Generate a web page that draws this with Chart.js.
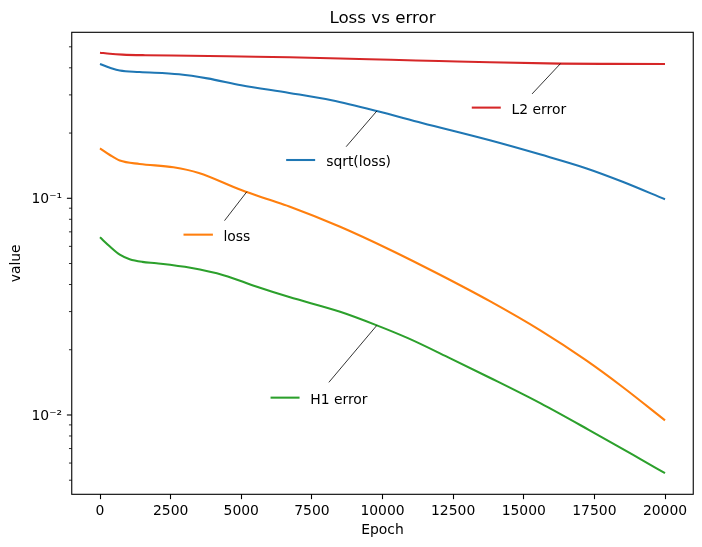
<!DOCTYPE html>
<html><head><meta charset="utf-8">
<script src="https://cdn.jsdelivr.net/npm/chart.js@4.4.1/dist/chart.umd.min.js"></script>
<style>html,body{margin:0;padding:0;background:#fff}#wrap{width:702px;height:547px;position:relative}</style>
</head><body><div id="wrap"><canvas id="c"></canvas></div>
<script>
// ---- data ----
const xTicks = [0, 2500, 5000, 7500, 10000, 12500, 15000, 17500, 20000];
const yMajorTicks = [0.01, 0.1];
const yMajorLabels = ['10\u207B\u00B2', '10\u207B\u00B9'];
const yMinorTicks = [0.005, 0.006, 0.007, 0.008, 0.009, 0.02, 0.03, 0.04, 0.05, 0.06, 0.07, 0.08, 0.09, 0.2, 0.3, 0.4, 0.5];

const l2Epoch = [0, 350, 800, 1600, 3200, 5000, 6700, 8500, 10300, 12000, 13800, 16300, 18000, 20000];
const l2Value = [0.4697, 0.4643, 0.4603, 0.4574, 0.4550, 0.4511, 0.4473, 0.4416, 0.4355, 0.4300, 0.4241, 0.4183, 0.4170, 0.4167];

const sqEpoch = [0, 350, 700, 1400, 2800, 3800, 5000, 6700, 8200, 9800, 11400, 13800, 15600, 17200, 18500, 20000];
const sqValue = [0.4167, 0.4006, 0.3884, 0.3827, 0.3735, 0.3576, 0.3325, 0.3064, 0.2833, 0.2528, 0.2226, 0.1852, 0.1591, 0.1377, 0.1192, 0.0989];

const lossEpoch = [0, 350, 700, 1400, 2600, 3500, 5000, 6000, 6700, 8500, 10300, 12000, 13800, 15600, 17200, 18500, 20000];
const lossValue = [0.1701, 0.1584, 0.1493, 0.1440, 0.1390, 0.1308, 0.1091, 0.0984, 0.0917, 0.0739, 0.0576, 0.0446, 0.0335, 0.0245, 0.0179, 0.01346, 0.00944];

const h1Epoch = [0, 350, 700, 1050, 1500, 2000, 3200, 4400, 5500, 6700, 8500, 9800, 10900, 12400, 13800, 15600, 17300, 19100, 20000];
const h1Value = [0.06607, 0.0599, 0.05493, 0.05236, 0.05087, 0.05012, 0.04777, 0.04407, 0.03926, 0.0350, 0.02994, 0.02592, 0.02262, 0.01825, 0.01486, 0.01131, 0.00854, 0.00629, 0.00539];

const annotLabels = ['L2 error', 'sqrt(loss)', 'loss', 'H1 error'];
const annotEpochs = [16300, 9800, 5200, 9800];
const annotValues = [0.4183, 0.2528, 0.1073, 0.02592];

// ---- styles / layout ----
const C = {blue:'#1f77b4', orange:'#ff7f0e', green:'#2ca02c', red:'#d62728'};
const annotColors = [C.red, C.blue, C.orange, C.green];
const annotLayout = [
  {conn:[-28.4, 30.3], line:[-88.7, -59.7, 44], text:-49},
  {conn:[-30.7, 35.7], line:[-90.7, -61.7, 49], text:-50.7},
  {conn:[-22.4, 29], line:[-63.4, -34, 43], text:-23.4},
  {conn:[-48, 57], line:[-106.3, -77.3, 72.3], text:-66.6}
];
const FS = 13.9;

Chart.defaults.font.family = 'DejaVu Sans';
Chart.defaults.font.size = FS;
Chart.defaults.color = '#000';

function pts(ex, vy) { return ex.map((e, i) => ({x: e, y: vy[i]})); }
function ds(label, ex, vy, color) {
  return {label, data: pts(ex, vy), borderColor: color, backgroundColor: color, borderWidth: 2.08,
    pointRadius: 0, cubicInterpolationMode: 'monotone', fill: false};
}

const deco = {
  id: 'deco',
  afterDraw(chart) {
    const {ctx, chartArea: a, scales: {x, y}} = chart;
    ctx.save();
    ctx.strokeStyle = '#000';
    const seg = (x1, y1, x2, y2) => { ctx.beginPath(); ctx.moveTo(x1, y1); ctx.lineTo(x2, y2); ctx.stroke(); };
    ctx.lineWidth = 1.1;
    yMajorTicks.forEach(v => { const p = y.getPixelForValue(v); seg(a.left - 4.86, p, a.left, p); });
    ctx.lineWidth = 0.83;
    yMinorTicks.forEach(v => { const p = y.getPixelForValue(v); seg(a.left - 2.78, p, a.left, p); });
    ctx.lineWidth = 1.1;
    ctx.strokeRect(a.left, a.top, a.right - a.left, a.bottom - a.top);
    // annotations
    annotLabels.forEach((t, i) => {
      const ax = x.getPixelForValue(annotEpochs[i]);
      const ay = y.getPixelForValue(annotValues[i]);
      const L = annotLayout[i];
      ctx.strokeStyle = '#000'; ctx.lineWidth = 0.8;
      seg(ax, ay, ax + L.conn[0], ay + L.conn[1]);
      ctx.strokeStyle = annotColors[i]; ctx.lineWidth = 2.08;
      const ly = ay + L.line[2];
      seg(ax + L.line[0], ly, ax + L.line[1], ly);
      ctx.fillStyle = '#000';
      ctx.font = FS + 'px "DejaVu Sans"';
      ctx.textAlign = 'left'; ctx.textBaseline = 'alphabetic';
      ctx.fillText(t, ax + L.text, ly + 6.2);
    });
    ctx.restore();
  }
};

new Chart(document.getElementById('c'), {
  type: 'line',
  data: {datasets: [
    ds('L2 error', l2Epoch, l2Value, C.red),
    ds('H1 error', h1Epoch, h1Value, C.green),
    ds('loss', lossEpoch, lossValue, C.orange),
    ds('sqrt(loss)', sqEpoch, sqValue, C.blue)
  ]},
  options: {
    responsive: true, maintainAspectRatio: false, animation: false,
    layout: {padding: {left: 0, right: 8.75, top: 0, bottom: 0}},
    plugins: {
      legend: {display: false}, tooltip: {enabled: false},
      title: {display: true, text: 'Loss vs error', fullSize: false, font: {size: 16.7, weight: 'normal'},
        color: '#000', padding: {top: 8.2, bottom: 4.06}}
    },
    scales: {
      x: {type: 'linear', min: -1000, max: 21000,
        afterBuildTicks: s => { s.ticks = xTicks.map(v => ({value: v})); },
        afterFit: s => { s.height = 52.7; },
        ticks: {autoSkip: false, maxRotation: 0, padding: 4.2, callback: v => String(v)},
        grid: {display: true, drawOnChartArea: false, drawTicks: true, tickLength: 4.86, tickWidth: 1.1, tickColor: '#000'},
        border: {display: false},
        title: {display: true, text: 'Epoch', padding: {top: 0, bottom: 8.26}}
      },
      y: {type: 'logarithmic', min: 0.004305, max: 0.5834,
        afterBuildTicks: s => { s.ticks = yMajorTicks.map(v => ({value: v})).concat(yMinorTicks.map(v => ({value: v}))); },
        afterFit: s => { s.width = 71.75; },
        ticks: {autoSkip: false, padding: 4.86, labelOffset: 1,
          callback: v => { const i = yMajorTicks.indexOf(v); return i >= 0 ? yMajorLabels[i] : ''; }},
        grid: {display: true, drawOnChartArea: false, drawTicks: true, tickLength: 4.86, tickColor: 'rgba(0,0,0,0)'},
        border: {display: false},
        title: {display: true, text: 'value', padding: {top: 8.05, bottom: 0}}
      }
    }
  },
  plugins: [deco]
});
</script></body></html>
